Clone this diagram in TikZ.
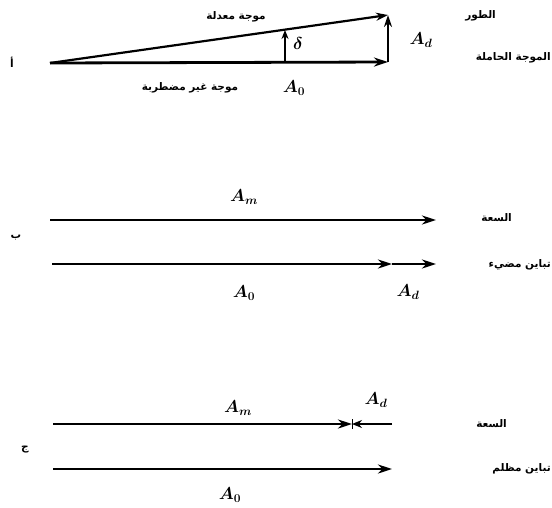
\documentclass[tikz,border=0pt]{standalone}
\usepackage{fontspec}
\usetikzlibrary{arrows.meta}
\TeXXeTstate=1
\newfontfamily\arabicfont[Script=Arabic]{DejaVu Sans}
\begin{document}
\begin{tikzpicture}[x=1pt,y=-1pt,
  vec/.style={line width=2.8pt,-{Stealth[length=14pt,width=9pt]}},
  thinvec/.style={line width=2.2pt,-{Stealth[length=12pt,width=8pt]}},
  ar/.style={font=\arabicfont\fontsize{10.5}{12}\selectfont\bfseries,inner sep=1pt},
  lab/.style={font=\LARGE\boldmath,inner sep=1pt}]
\useasboundingbox (0,0) rectangle (552,507);
% ---------- panel a ----------
\coordinate (aO) at (50,63);
\coordinate (aA0) at (388,62);
\coordinate (aTop) at (388,15);
\coordinate (dB) at (285,62);
\coordinate (dT) at (285,30);
\draw[vec] (aO) -- (aA0);
\draw[thinvec] (aO) -- (aTop);
\draw[thinvec] (aA0) -- (aTop);
\draw[line width=1.6pt,-{Stealth[length=9pt,width=7pt]}] (dB) -- (dT);
\node[lab] (delta) at (298,43) {$\delta$};
\node[lab] (ad1) at (421,40) {$A_d$};
\node[lab] (a01) at (294,88) {$A_0$};
\node[ar] (mod) at (236,17) {\beginR موجة معدلة\endR};
\node[ar] (unp) at (190,88) {\beginR موجة غير مضطربة\endR};
\node[ar,anchor=east] (phase) at (497,16) {\beginR الطور\endR};
\node[ar,anchor=east] (carr) at (552,58) {\beginR الموجة الحاملة\endR};
\node[ar] (alef) at (12,62) {\beginR أ\endR};
% ---------- panel b ----------
\coordinate (bL1) at (50,220);
\coordinate (bR1) at (436,220);
\coordinate (bL2) at (52,264);
\coordinate (bM2) at (392,264);
\coordinate (bR2) at (436,264);
\draw[vec] (bL1) -- (bR1);
\draw[vec] (bL2) -- (bM2);
\draw[vec] (bM2) -- (bR2);
\node[lab] (bam) at (244,197) {$A_m$};
\node[lab] (ba0) at (244,293) {$A_0$};
\node[lab] (bad) at (408,292) {$A_d$};
\node[ar,anchor=east] (bsa) at (513,218) {\beginR السعة\endR};
\node[ar,anchor=east] (bbr) at (552,265) {\beginR تباين مضيء\endR};
\node[ar] (ba) at (16,238) {\beginR ب\endR};
% ---------- panel c ----------
\coordinate (cL1) at (53,424);
\coordinate (cM1) at (352,424);
\coordinate (cR1) at (392,424);
\coordinate (cL2) at (53,469);
\coordinate (cR2) at (392,469);
\draw[vec] (cL1) -- (cM1);
\draw[line width=2.2pt,-{Stealth[length=10pt,width=8pt]}] (cR1) -- (cM1);
\draw[line width=1pt] ([yshift=-5pt]cM1) -- ([yshift=5pt]cM1);
\draw[vec] (cL2) -- (cR2);
\node[lab] (cam) at (238,408) {$A_m$};
\node[lab] (cad) at (376,400) {$A_d$};
\node[lab] (ca0) at (230,495) {$A_0$};
\node[ar,anchor=east] (csa) at (508,424) {\beginR السعة\endR};
\node[ar,anchor=east] (cdk) at (552,469) {\beginR تباين مظلم\endR};
\node[ar] (cj) at (25,450) {\beginR ج\endR};
\end{tikzpicture}
\end{document}
